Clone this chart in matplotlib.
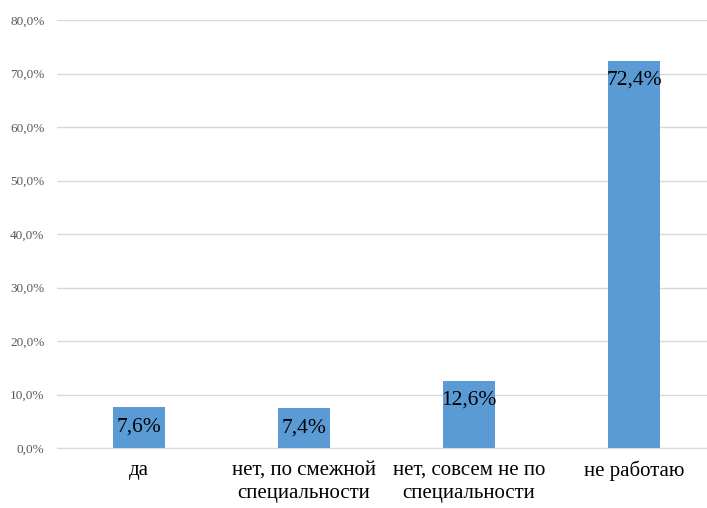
import matplotlib.pyplot as plt
import numpy as np
from matplotlib.ticker import FuncFormatter

# answers and shares (%)
categories = ['да', 'нет, по смежной\nспециальности', 'нет, совсем не по\nспециальности', 'не работаю']
values = [7.6, 7.4, 12.6, 72.4]
value_labels = ['7,6%', '7,4%', '12,6%', '72,4%']

plt.rcParams['font.family'] = ['Liberation Serif', 'DejaVu Serif']

fig = plt.figure(figsize=(7.07, 5.08), dpi=100)
ax = fig.add_axes([0.0806, 0.1181, 0.9194, 0.8425])

x = np.arange(len(categories))
bars = ax.bar(x, values, width=0.315, color='#5B9BD5', zorder=3)

# value labels inside the top of each bar
for b, lab in zip(bars, value_labels):
    ax.annotate(lab, (b.get_x() + b.get_width() / 2, b.get_height()),
                xytext=(0, -14), textcoords='offset points',
                ha='center', va='center', fontsize=15.5, color='#000000', zorder=4)

ax.set_ylim(0, 80)
ax.set_yticks(np.arange(0, 81, 10))
ax.yaxis.set_major_formatter(FuncFormatter(lambda v, p: ('%.1f%%' % v).replace('.', ',')))
ax.set_xlim(-0.497, 3.442)
ax.set_xticks(x)
ax.set_xticklabels(categories, fontsize=15, color='#000000', linespacing=1.35)

ax.grid(axis='y', color='#D9D9D9', linewidth=1, zorder=0)
for s in ['top', 'right', 'left']:
    ax.spines[s].set_visible(False)
ax.spines['bottom'].set_color('#D9D9D9')
ax.tick_params(axis='both', length=0)
ax.tick_params(axis='y', labelsize=9.5, labelcolor='#595959', pad=9)
ax.tick_params(axis='x', pad=9)

fig.savefig('out.png', dpi=100)
